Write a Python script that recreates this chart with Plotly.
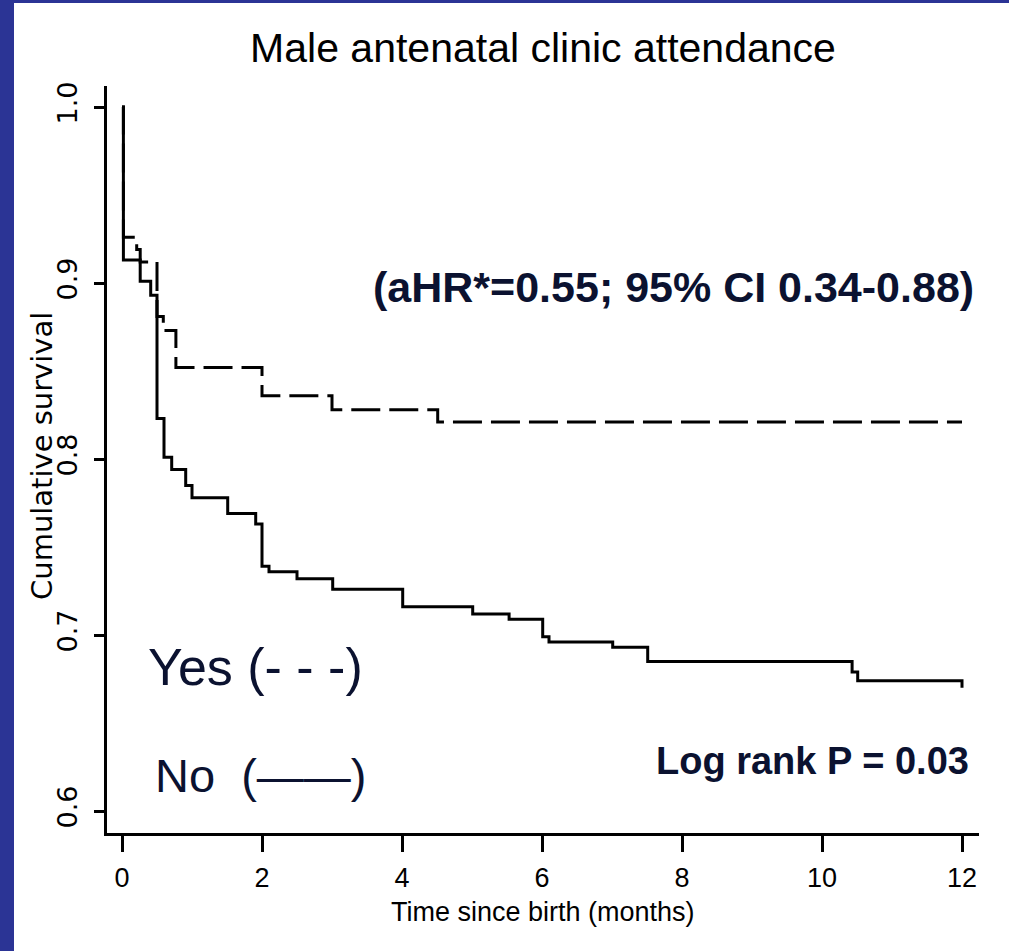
import plotly.graph_objects as go

# ---- data ----
no_t = [0, 0.02, 0.26, 0.41, 0.50, 0.60, 0.71, 0.91, 1.00, 1.51, 1.91, 2.00, 2.10, 2.50,
        3.01, 4.01, 5.01, 5.53, 6.01, 6.10, 7.01, 7.51, 10.43, 10.51, 12.0]
no_s = [1.0, 0.913, 0.901, 0.893, 0.823, 0.801, 0.794, 0.785, 0.778, 0.769, 0.763, 0.739,
        0.736, 0.732, 0.726, 0.716, 0.712, 0.709, 0.699, 0.696, 0.693, 0.685, 0.679, 0.674, 0.670]

yes_t = [0, 0.02, 0.21, 0.26, 0.50, 0.59, 0.77, 2.00, 3.00, 4.51, 12.0]
yes_s = [1.0, 0.926, 0.919, 0.912, 0.881, 0.873, 0.852, 0.836, 0.828, 0.821, 0.821]

x_ticks = [0, 2, 4, 6, 8, 10, 12]
y_ticks = [0.6, 0.7, 0.8, 0.9, 1.0]
y_ticktext = ["0.6", "0.7", "0.8", "0.9", "1.0"]

title_text = "Male antenatal clinic attendance"
xlab = "Time since birth (months)"
ylab = "Cumulative survival"
hr_text = "(aHR*=0.55; 95% CI 0.34-0.88)"
p_text = "Log rank P = 0.03"
yes_text = "Yes (- - -)"
no_text = "No\u00a0\u00a0(\u2014\u2014)"

# ---- layout geometry (pixels) ----
W, H = 1009, 951
L, R, T, B = 107, 979, 86, 833


def px(x):
    return (x - L) / (R - L)


def py(y):
    return (B - y) / (B - T)


ARIAL = "Liberation Sans, Arial, sans-serif"
DEJAVU = "DejaVu Sans, sans-serif"
NAVY = "#0b1230"

fig = go.Figure()
fig.add_trace(go.Scatter(x=no_t, y=no_s, mode="lines", line_shape="hv",
                         line=dict(color="black", width=3), name="No", showlegend=False))
fig.add_trace(go.Scatter(x=yes_t, y=yes_s, mode="lines", line_shape="hv",
                         line=dict(color="black", width=3, dash="29px,9px"), name="Yes",
                         showlegend=False))

fig.update_layout(
    width=W, height=H,
    margin=dict(l=L, r=W - R, t=T, b=H - B, autoexpand=False),
    paper_bgcolor="white", plot_bgcolor="white",
    showlegend=False,
    title=dict(text=title_text, x=px(543), xref="paper", xanchor="center",
               y=1 - 48 / H, yref="container", yanchor="middle",
               font=dict(family=ARIAL, size=41, color="black")),
)

fig.update_xaxes(range=[(L - 122) / 70, (R - 122) / 70], tickvals=x_ticks,
                 showline=True, linecolor="black", linewidth=3,
                 ticks="outside", ticklen=16, tickwidth=2.5, tickcolor="black",
                 showgrid=False, zeroline=False, ticklabelstandoff=3,
                 tickfont=dict(family=ARIAL, size=27, color="black"))
fig.update_yaxes(range=[1 - (B - 107) / 1760, 1 + (107 - T) / 1760], tickvals=y_ticks,
                 ticktext=y_ticktext, tickangle=-90,
                 showline=True, linecolor="black", linewidth=3,
                 ticks="outside", ticklen=10, tickwidth=2.5, tickcolor="black",
                 showgrid=False, zeroline=False, ticklabelstandoff=6,
                 tickfont=dict(family=DEJAVU, size=27, color="black"))

ann = [
    dict(text=xlab, x=px(543), y=py(912), xanchor="center", yanchor="middle",
         font=dict(family=ARIAL, size=27, color="black")),
    dict(text=ylab, x=px(42), y=py(456), xanchor="center", yanchor="middle", textangle=-90,
         font=dict(family=DEJAVU, size=29, color="black")),
    dict(text="<b>" + hr_text + "</b>", x=px(976), y=py(287), xanchor="right", yanchor="middle",
         font=dict(family=ARIAL, size=43, color=NAVY)),
    dict(text="<b>" + p_text + "</b>", x=px(971), y=py(761), xanchor="right", yanchor="middle",
         font=dict(family=ARIAL, size=38, color=NAVY)),
    dict(text=yes_text, x=px(146), y=py(667), xanchor="left", yanchor="middle",
         font=dict(family=ARIAL, size=52, color=NAVY)),
    dict(text=no_text, x=px(153), y=py(775), xanchor="left", yanchor="middle",
         font=dict(family=ARIAL, size=47, color=NAVY)),
]
for a in ann:
    a.update(xref="paper", yref="paper", showarrow=False)
fig.update_layout(annotations=ann)

BLUE = "#2b3495"
fig.update_layout(shapes=[
    dict(type="rect", xref="paper", yref="paper", x0=px(-2), x1=px(14), y0=py(H + 2), y1=py(-2),
         fillcolor=BLUE, line=dict(width=0), layer="above"),
    dict(type="rect", xref="paper", yref="paper", x0=px(-2), x1=px(W + 2), y0=py(3), y1=py(-2),
         fillcolor=BLUE, line=dict(width=0), layer="above"),
])

fig.write_html("out.html", config={"displayModeBar": False},
               post_script="document.body.style.margin='0';document.body.style.overflow='hidden';")
